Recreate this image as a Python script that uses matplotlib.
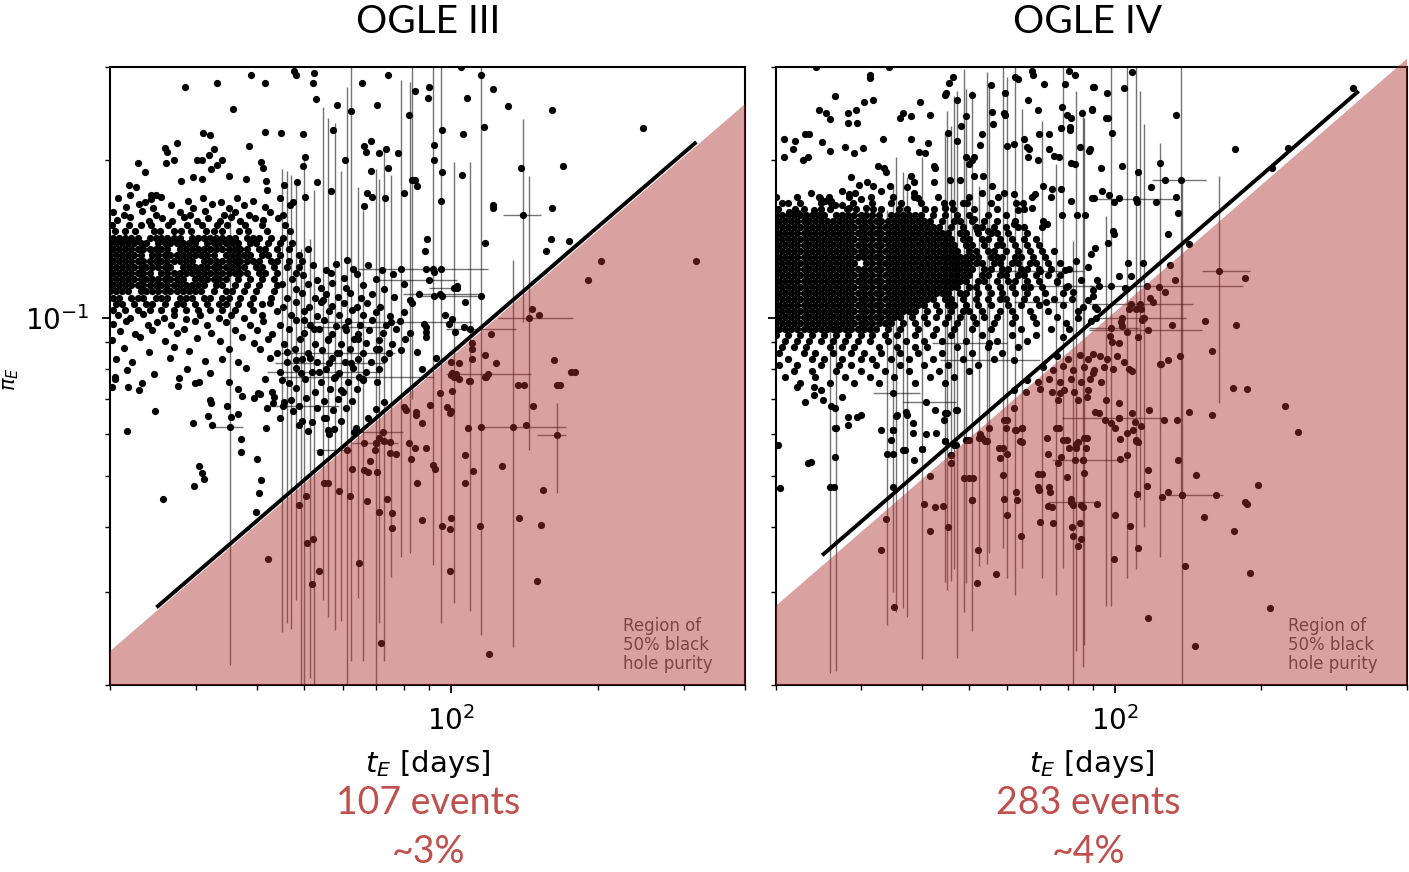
import numpy as np
import matplotlib.pyplot as plt
from matplotlib.ticker import NullFormatter

# ---------------- OGLE III (left panel) ----------------
# dense core of the cloud: (piE, [tE values along that row])
iii_core = [
    (0.150, [20.2, 21.9, 23.2, 24.3, 26.3, 28.7, 30.9, 33.1, 34.8, 37.8, 40.9, 45.6]),
    (0.146, [20.5, 21.5, 22.5, 24.6, 25.3, 27.0, 28.0, 29.3, 31.4, 32.7, 34.0, 36.8, 38.3, 42.0, 46.7]),
    (0.142, [20.3, 20.9, 21.5, 22.1, 22.8, 24.1, 24.8, 25.5, 26.2, 27.0, 27.8, 29.5, 30.3, 31.2, 32.1, 33.0, 34.0, 35.0, 36.0, 38.1, 39.2, 40.4, 42.8, 45.3]),
    (0.1385, [20.0, 20.6, 21.2, 21.8, 22.4, 23.1, 23.7, 25.1, 25.9, 26.6, 27.4, 28.2, 29.0, 29.9, 31.6, 32.6, 33.5, 34.5, 35.5, 36.5, 38.7, 39.8, 42.2, 44.7, 47.3]),
    (0.135, [20.3, 20.9, 21.5, 22.1, 22.8, 23.4, 24.1, 24.8, 25.5, 26.2, 27.8, 28.6, 29.5, 30.3, 31.2, 32.1, 33.0, 34.0, 35.0, 36.0, 37.0, 38.1, 40.4, 41.6, 44.0, 46.6, 50.8]),
    (0.1315, [20.0, 20.6, 21.2, 21.8, 22.4, 23.1, 24.4, 25.1, 25.9, 26.6, 27.4, 28.2, 29.0, 29.9, 30.7, 31.6, 32.6, 34.5, 35.5, 36.5, 37.6, 38.7, 41.0, 42.2, 44.7, 48.7]),
    (0.128, [20.3, 20.9, 21.5, 22.1, 22.8, 23.4, 24.1, 24.8, 25.5, 26.2, 27.0, 27.8, 28.6, 29.5, 31.2, 32.1, 33.0, 34.0, 35.0, 36.0, 37.0, 38.1, 39.2, 40.4, 42.8, 44.0, 46.6, 49.4]),
    (0.1248, [20.0, 20.6, 21.2, 21.8, 22.4, 23.1, 23.7, 24.4, 25.1, 25.9, 26.6, 28.2, 29.0, 29.9, 30.7, 31.6, 32.6, 33.5, 34.5, 35.5, 36.5, 37.6, 39.8, 41.0, 43.4, 46.0, 48.7]),
    (0.1215, [20.3, 20.9, 21.5, 22.1, 22.8, 23.4, 24.1, 25.5, 26.2, 27.0, 27.8, 28.6, 29.5, 30.3, 31.2, 32.1, 33.0, 34.0, 35.0, 36.0, 37.0, 38.1, 40.4, 41.6, 44.0, 48.0]),
    (0.1183, [20.0, 20.6, 21.2, 21.8, 22.4, 23.1, 23.7, 24.4, 25.1, 25.9, 26.6, 27.4, 28.2, 29.9, 30.7, 31.6, 32.6, 33.5, 34.5, 36.5, 38.7, 41.0, 43.4, 47.3]),
    (0.1152, [20.3, 20.9, 21.5, 22.1, 22.8, 23.4, 24.1, 24.8, 25.5, 26.2, 27.0, 27.8, 28.6, 29.5, 30.3, 31.2, 33.0, 34.0, 36.0, 38.1, 40.4, 44.0]),
    (0.1122, [20.0, 20.6, 21.2, 21.8, 23.1, 23.7, 24.4, 25.1, 25.9, 26.6, 27.4, 28.2, 29.0, 29.9, 30.7, 32.6, 34.5, 35.5, 37.6, 39.8, 43.4]),
    (0.1092, [20.3, 20.9, 22.1, 22.8, 23.4, 24.8, 25.5, 26.2, 27.8, 28.6, 29.5, 31.2, 32.1, 34.0, 35.0, 37.0, 39.2, 42.8]),
    (0.1063, [20.6, 21.2, 22.4, 23.7, 24.4, 25.9, 27.4, 28.2, 29.9, 31.6, 33.5, 34.5, 36.5, 38.7, 41.0]),
    (0.1035, [20.3, 21.5, 22.8, 24.1, 25.5, 27.0, 28.6, 30.3, 32.1, 34.0, 36.0, 39.2]),
]

# individual events (tE [days], piE)
iii_pts = [
    # fringe above the core
    (20.8, .169), (23.6, .166), (25.4, .1695), (28.9, .1665), (31.0, .1688), (33.8, .1662), (36.4, .1692), (39.2, .1668), (44.7, .169), (47.5, .1664),
    (21.6, .1622), (22.9, .1645), (24.5, .1618), (26.7, .1642), (29.6, .162), (32.4, .1644), (35.0, .1616), (37.6, .164), (41.5, .1622), (46.8, .1638),
    (20.3, .1592), (21.4, .1568), (23.3, .1594), (24.9, .157), (27.8, .159), (29.2, .1566), (31.3, .1593), (34.2, .1569), (36.1, .1592), (38.5, .1568), (42.6, .159), (45.3, .157),
    (20.7, .1532), (22.0, .1552), (24.0, .153), (25.6, .155), (26.8, .1528), (28.4, .1553), (30.1, .1531), (31.8, .155), (33.6, .1529), (35.4, .1552), (37.0, .153), (39.6, .1549), (41.2, .1532), (44.1, .1548),
    # sparse upper region
    (38.9, .29), (33.2, .28), (28.5, .275), (41.6, .28), (47.7, .295), (48.1, .29), (52.3, .292), (52.0, .28), (35.8, .25), (52.8, .261),
    (58.4, .254), (62.2, .247), (65.8, .28), (74.3, .29), (70.6, .254), (84.2, .27), (90.1, .275), (89.6, .262), (82.0, .243), (41.6, .226),
    (44.9, .225), (49.7, .224), (57.4, .228), (31.0, .225), (32.1, .223), (27.4, .215), (25.9, .21), (26.2, .207), (27.0, .2), (26.0, .197),
    (22.8, .197), (23.6, .189), (30.1, .2), (30.8, .2), (31.9, .204), (32.6, .209), (38.5, .212), (33.9, .2), (32.2, .192), (33.2, .195),
    (30.8, .184), (35.0, .186), (29.6, .185), (28.0, .182), (40.8, .198), (41.2, .193), (38.0, .184), (41.8, .182), (49.7, .194), (50.3, .202),
    (48.4, .181), (53.2, .181), (56.8, .174), (45.4, .179), (42.0, .175), (50.3, .17), (68.6, .217), (66.4, .212), (66.8, .207), (71.0, .206),
    (73.7, .209), (77.9, .206), (68.6, .19), (74.3, .193), (60.6, .2), (84.2, .183), (85.2, .178), (80.1, .173), (67.3, .173), (69.0, .17),
    (73.3, .169), (66.4, .163), (21.9, .179), (22.6, .177), (22.0, .171), (24.3, .171), (24.9, .171), (24.3, .168),
    (105, .30), (115, .29), (122, .272), (108, .262), (131, .253), (161, .248), (247, .23), (95.8, .228), (105.8, .224), (117, .231),
    (92.2, .213), (92.2, .2), (95.8, .189), (105.4, .187), (139.2, .193), (169.6, .194), (95.4, .167), (122, .164), (122, .162), (161, .162),
    (89.2, .141), (88.3, .134), (117.4, .139), (160, .141), (174.3, .14), (156.6, .134), (88.7, .1236), (92.2, .122), (102.9, .115), (102.9, .114),
    (92.2, .11), (95.8, .11), (106.8, .107), (97.2, .101), (100.5, .0996), (99.0, .0974), (106.3, .096), (101.9, .094), (88.7, .096), (88.7, .094),
    (88.7, .092), (87.1, .08), (93.2, .084),
    # middle cluster
    (52.0, .126), (55.5, .1235), (58.0, .1265), (63.0, .124), (67.5, .126), (72.0, .1232),
    (49.8, .1205), (53.0, .118), (56.8, .1215), (60.2, .119), (64.0, .121), (70.0, .1185), (76.0, .1212),
    (45.0, .116), (48.0, .1135), (51.0, .1158), (54.2, .1138), (57.0, .1162), (61.0, .114), (66.0, .1155), (73.0, .1132), (80.0, .116),
    (46.2, .1092), (49.5, .1112), (52.6, .1088), (55.5, .1108), (58.6, .1094), (62.0, .1115), (65.5, .109), (69.0, .111), (76.5, .1095), (86.0, .1108),
    (42.6, .1068), (45.3, .1048), (48.0, .1072), (51.2, .105), (54.0, .107), (57.0, .1052), (60.3, .1068), (64.0, .1046), (67.2, .1066), (71.5, .105), (83.0, .1065),
    (41.0, .1012), (44.0, .1032), (47.0, .101), (50.0, .103), (53.0, .1008), (56.2, .1028), (59.0, .1012), (62.5, .1034), (66.0, .101), (70.0, .1026), (75.0, .1008), (80.0, .1025),
    (41.2, .0985), (44.5, .0968), (48.2, .099), (51.5, .097), (54.8, .0988), (58.0, .0965), (61.5, .0985), (65.0, .097), (69.0, .0992), (73.5, .0968), (78.5, .0986), (88.0, .0972),
    (40.0, .0948), (43.0, .0932), (46.5, .0952), (50.0, .0935), (53.5, .095), (57.0, .093), (60.8, .0948), (64.5, .0932), (68.0, .0946), (72.5, .0934), (77.0, .095), (82.5, .0935),
    (39.5, .0895), (42.2, .0912), (45.5, .0892), (49.0, .091), (52.5, .089), (56.0, .0908), (59.5, .0893), (63.2, .0912), (67.0, .0895), (71.0, .0908), (75.5, .0892), (80.5, .091),
    (40.5, .087), (44.0, .0858), (47.8, .0872), (51.0, .0856), (54.5, .0868), (58.3, .0855), (62.0, .0872), (66.0, .0858), (70.0, .087), (74.5, .0856), (79.0, .0868), (85.0, .086),
    (36.5, .0825), (42.5, .0838), (46.0, .0822), (49.5, .0836), (53.0, .0824), (57.0, .0838), (60.5, .0823), (64.5, .0835), (68.5, .0822), (73.0, .0836),
    (38.0, .0802), (44.5, .0788), (48.0, .0801), (51.8, .0787), (55.5, .08), (59.0, .0786), (63.0, .0802), (67.0, .079), (71.0, .0799),
    (35.0, .0755), (41.5, .0766), (46.5, .0752), (50.2, .0765), (54.0, .0754), (57.6, .0767), (61.5, .0753), (66.0, .0764), (70.5, .0755),
    (36.5, .0732), (43.0, .0722), (48.0, .0734), (52.5, .0721), (56.5, .0733), (60.0, .0722), (64.0, .0731),
    (39.5, .0702), (45.5, .0692), (50.5, .0703), (55.0, .0693), (58.5, .0701), (62.5, .0694),
    (42.0, .0673), (47.5, .0665), (53.0, .0674), (57.2, .0666), (60.8, .0672),
    (44.5, .0644), (49.5, .0636), (55.5, .0643), (59.5, .0637), (41.8, .0616), (50.8, .0609), (57.5, .0615),
    # below the core, short events
    (20.8, .1012), (22.0, .0998), (23.4, .1015), (25.8, .1), (27.1, .1013), (28.6, .0996), (30.6, .1011), (33.4, .0998), (35.4, .1014), (37.6, .1),
    (20.3, .0972), (21.6, .0985), (23.9, .0968), (25.0, .0982), (26.7, .097), (29.8, .0986), (31.6, .0969), (34.6, .0983), (38.8, .097),
    (21.0, .0945), (22.5, .0932), (24.4, .0948), (27.4, .0935), (28.3, .0951), (32.2, .0934), (36.0, .0946),
    (20.2, .0905), (23.0, .0918), (25.9, .0902), (30.2, .0915), (33.6, .0904), (37.2, .0917),
    (21.4, .0875), (24.0, .0862), (27.0, .0878), (29.0, .0865), (35.0, .0873),
    (20.6, .0835), (22.2, .0822), (26.5, .0838), (31.3, .0826), (33.9, .0836),
    (21.7, .0795), (24.6, .0782), (28.8, .0797), (32.0, .0785), (20.5, .0765), (23.3, .0752), (27.7, .0768), (30.5, .0756),
    (20.5, .077), (21.7, .061), (25.7, .0451), (24.7, .0665), (29.6, .063), (29.7, .0478), (30.4, .0523), (30.9, .0506), (31.2, .0493), (37.1, .0588),
    (37.1, .0555), (40.0, .0538), (40.8, .0491), (40.3, .0464), (39.8, .0426), (20.2, .0738), (21.8, .0738), (22.9, .073), (32.3, .0625), (31.7, .065),
    (34.8, .068), (36.6, .0655), (35.4, .0647), (32.0, .0698), (32.2, .0688), (40.2, .0718), (40.6, .0716), (37.2, .071), (27.6, .0742), (29.9, .075),
    (43.3, .0707), (45.2, .068), (43.2, .0688), (48.8, .0625), (51.8, .0633), (53.9, .0555), (55.0, .0645), (55.9, .0612), (56.3, .0602), (63.3, .0606),
    (63.9, .0617), (67.5, .0645),
    # inside the 50% purity region
    (203, .128), (191, .118), (317, .128), (146.6, .104), (151.5, .101), (120.8, .093), (110.4, .0896), (110.4, .087), (110.4, .0835), (117.4, .085),
    (123.7, .082), (103.8, .082), (100, .0824), (100.5, .0786), (102.4, .078), (103.8, .0765), (109.4, .0757), (117.4, .077), (137.2, .0746), (162.4, .0832),
    (176, .079), (165, .0746), (42.2, .0348), (48.8, .044), (50.4, .0458), (50.6, .0372), (52.1, .038), (51.8, .0312), (53.7, .0329), (55.0, .0484),
    (56.0, .0484), (59.0, .0468), (62.0, .0458), (64.8, .0341), (67.3, .0448), (71.0, .0426), (74.0, .0451), (75.5, .0425), (75.5, .0398), (71.9, .024),
    (66.3, .0513), (67.5, .0508), (70.6, .0508), (62.6, .0516), (68.2, .0534), (66.3, .0578), (69.8, .056), (70.3, .0578), (71.0, .059), (73.0, .0583),
    (75.0, .058), (77.0, .0551), (75.0, .0553), (82.0, .0578), (84.5, .0566), (89.0, .0566), (82.8, .0538), (85.2, .0484), (87.0, .0412), (91.8, .0524),
    (92.5, .0516), (95.6, .0401), (100, .0415), (99.5, .0396), (99.5, .0329), (107, .0548), (107, .0484), (111, .051), (114.5, .0401), (127, .0522),
    (138, .0415), (153, .0404), (154, .047), (150, .0316), (119.6, .0229), (142.5, .0625), (114.9, .062), (108.4, .0617), (147, .0679), (141, .0745),
    (167, .0745), (179, .0789), (118, .0772), (109, .0757), (100.5, .0726), (99.5, .066), (100, .0665), (100, .0778), (101.4, .077), (98.1, .0677),
    (95.0, .0718), (90.5, .0682), (87.0, .063), (84.8, .0662), (84.8, .0653), (80.0, .0675), (80.8, .0668),
]

# events with error bars: (tE, piE, tE_lo, tE_hi, piE_lo, piE_hi)
iii_err = [
    (35.2, .062, 32.3, 37.5, .0218, .163), (45.0, .0762, 45.0, 45.0, .0252, .192), (46.1, .086, 46.1, 46.1, .0263, .19),
    (47.0, .0698, 47.0, 47.0, .0256, .187), (48.1, .083, 48.1, 48.1, .029, .182), (49.3, .0785, 49.3, 49.3, .0195, .135),
    (50.0, .099, 50.0, 50.0, .019, .20), (51.4, .084, 51.4, 51.4, .0206, .141), (52.4, .095, 52.4, 52.4, .0195, .175),
    (54.6, .108, 54.6, 54.6, .029, .252), (55.9, .091, 55.9, 55.9, .0269, .24), (57.7, .077, 57.7, 57.7, .0254, .235),
    (59.5, .073, 59.5, 59.5, .0265, .19), (61.3, .129, 61.3, 61.3, .019, .275), (62.4, .082, 62.4, 62.4, .0222, .30),
    (64.3, .091, 64.3, 64.3, .0293, .177), (66.1, .076, 66.1, 66.1, .0222, .16), (70.3, .067, 70.3, 70.3, .019, .192),
    (71.2, .087, 71.2, 71.2, .0262, .184), (72.9, .069, 72.9, 72.9, .0222, .209), (75.2, .098, 49.3, 110.4, .0321, .187),
    (78.9, .124, 78.9, 78.9, .035, .284), (82.3, .108, 82.3, 82.3, .0356, .281), (83.1, .183, 83.1, 83.1, .07, .31),
    (91.9, .124, 91.9, 91.9, .0338, .31), (95.4, .124, 64.3, 119, .0262, .31), (101.4, .114, 90, 103, .0286, .198),
    (109.4, .095, 97.5, 136, .0277, .198), (115.2, .11, 86, 115.2, .0249, .31), (134, .062, 113, 172, .0236, .129),
    (140.5, .157, 127.7, 152.7, .098, .239), (144.6, .10, 125, 177.6, .056, .186), (164.6, .0598, 150, 172, .0464, .0688),
    (90, .118, 70.6, 102.9, .118, .118), (95, .111, 79.8, 115, .111, .111), (60.5, .096, 50, 72.9, .096, .096),
    (59, .0857, 44.9, 76.8, .0857, .0857), (56.3, .082, 43.6, 73.3, .082, .082), (53.7, .079, 42, 71.6, .079, .079),
    (119, .078, 97.5, 146, .078, .078), (64.8, .077, 44.9, 92.2, .077, .077), (48.8, .068, 42.4, 59, .068, .068),
    (61.3, .056, 52.9, 62.4, .056, .056), (72.6, .0605, 64.3, 79.6, .0605, .0605), (70.3, .0578, 62.6, 78, .0578, .0578),
]

# ---------------- OGLE IV (right panel) ----------------
iv_core = [
    (0.170, [20.0, 22.1, 24.5, 25.7, 28.3, 31.4, 34.9, 38.6, 43.2, 50.0, 57.5, 67.5]),
    (0.1655, [20.6, 22.4, 24.8, 26.0, 28.8, 31.5, 34.6, 36.2, 39.9, 44.3, 49.5, 55.5, 64.5]),
    (0.161, [20.2, 21.9, 22.8, 24.8, 25.8, 28.0, 29.2, 31.7, 33.0, 35.8, 37.3, 40.6, 42.4, 46.3, 51.2, 57.2, 65.0]),
    (0.157, [20.0, 20.6, 21.2, 21.8, 22.4, 23.1, 23.7, 24.4, 25.1, 26.6, 27.4, 28.2, 29.0, 29.9, 30.7, 31.6, 32.6, 34.5, 35.5, 36.5, 37.6, 38.7, 39.8, 42.2, 44.7, 47.3, 50.1, 54.6, 59.5]),
    (0.153, [20.3, 20.9, 21.5, 22.1, 22.8, 23.4, 24.1, 24.8, 25.5, 26.2, 27.0, 27.8, 28.6, 29.5, 30.3, 31.2, 32.1, 33.0, 34.0, 35.0, 36.0, 37.0, 38.1, 39.2, 40.4, 41.6, 44.0, 46.6, 48.0, 50.8, 53.8, 57.0, 62.1]),
    (0.149, [20.0, 20.6, 21.2, 21.8, 22.4, 23.1, 23.7, 24.4, 25.1, 25.9, 26.6, 27.4, 28.2, 29.0, 29.9, 30.7, 31.6, 32.6, 33.5, 34.5, 35.5, 36.5, 37.6, 38.7, 39.8, 41.0, 42.2, 43.4, 46.0, 48.7, 51.6, 53.1, 56.2, 59.5, 63.0, 70.6]),
    (0.145, [20.3, 20.9, 21.5, 22.1, 22.8, 23.4, 24.1, 24.8, 25.5, 26.2, 27.0, 27.8, 28.6, 29.5, 30.3, 31.2, 32.1, 33.0, 34.0, 35.0, 36.0, 37.0, 38.1, 39.2, 40.4, 41.6, 42.8, 44.0, 45.3, 48.0, 49.4, 52.3, 55.4, 57.0, 60.3, 65.7]),
    (0.1413, [20.0, 20.6, 21.2, 21.8, 22.4, 23.1, 23.7, 24.4, 25.1, 25.9, 26.6, 27.4, 28.2, 29.0, 29.9, 30.7, 31.6, 32.6, 33.5, 34.5, 35.5, 36.5, 37.6, 38.7, 39.8, 41.0, 42.2, 43.4, 44.7, 46.0, 48.7, 50.1, 53.1, 54.6, 57.8, 61.2, 64.8, 68.6]),
    (0.1377, [20.3, 20.9, 21.5, 22.1, 22.8, 23.4, 24.1, 24.8, 25.5, 26.2, 27.0, 27.8, 28.6, 29.5, 30.3, 31.2, 32.1, 33.0, 34.0, 35.0, 36.0, 37.0, 38.1, 39.2, 40.4, 41.6, 42.8, 44.0, 45.3, 46.6, 49.4, 50.8, 53.8, 57.0, 58.6, 62.1, 65.7, 69.6]),
    (0.1341, [20.0, 20.6, 21.2, 21.8, 22.4, 23.1, 23.7, 24.4, 25.1, 25.9, 26.6, 27.4, 28.2, 29.0, 29.9, 30.7, 31.6, 32.6, 33.5, 34.5, 35.5, 36.5, 37.6, 38.7, 39.8, 41.0, 42.2, 43.4, 44.7, 46.0, 47.3, 50.1, 51.6, 54.6, 56.2, 59.5, 63.0, 66.7, 70.6, 74.7]),
    (0.1306, [20.3, 20.9, 21.5, 22.1, 22.8, 23.4, 24.1, 24.8, 25.5, 26.2, 27.0, 27.8, 28.6, 29.5, 30.3, 31.2, 32.1, 33.0, 34.0, 35.0, 36.0, 37.0, 38.1, 39.2, 40.4, 41.6, 42.8, 44.0, 45.3, 46.6, 48.0, 49.4, 50.8, 52.3, 55.4, 57.0, 58.6, 62.1, 63.9, 67.6, 71.6]),
    (0.1272, [20.0, 20.6, 21.2, 21.8, 22.4, 23.1, 23.7, 24.4, 25.1, 25.9, 26.6, 27.4, 28.2, 29.0, 30.7, 31.6, 32.6, 33.5, 34.5, 35.5, 36.5, 37.6, 38.7, 39.8, 41.0, 42.2, 43.4, 44.7, 46.0, 47.3, 48.7, 50.1, 51.6, 53.1, 56.2, 57.8, 61.2, 63.0, 66.7, 68.6, 72.6, 76.9]),
    (0.1239, [20.3, 20.9, 21.5, 22.1, 22.8, 23.4, 24.1, 24.8, 25.5, 26.2, 27.0, 27.8, 28.6, 29.5, 30.3, 31.2, 32.1, 33.0, 34.0, 35.0, 36.0, 37.0, 38.1, 39.2, 40.4, 41.6, 42.8, 44.0, 45.3, 46.6, 48.0, 49.4, 50.8, 53.8, 55.4, 58.6, 60.3, 63.9, 65.7, 69.6, 73.7, 80.3]),
    (0.1207, [20.0, 20.6, 21.2, 21.8, 22.4, 23.1, 23.7, 24.4, 25.1, 25.9, 26.6, 27.4, 28.2, 29.0, 29.9, 30.7, 31.6, 32.6, 33.5, 34.5, 35.5, 36.5, 37.6, 38.7, 39.8, 41.0, 42.2, 43.4, 44.7, 46.0, 47.3, 48.7, 50.1, 53.1, 54.6, 57.8, 59.5, 63.0, 64.8, 68.6, 72.6, 76.9]),
    (0.1175, [20.3, 20.9, 21.5, 22.1, 22.8, 23.4, 24.1, 24.8, 25.5, 26.2, 27.0, 27.8, 28.6, 29.5, 30.3, 31.2, 32.1, 33.0, 34.0, 35.0, 36.0, 37.0, 38.1, 39.2, 40.4, 41.6, 42.8, 44.0, 45.3, 46.6, 48.0, 49.4, 52.3, 53.8, 57.0, 60.3, 62.1, 65.7, 69.6, 75.8]),
    (0.1145, [20.0, 20.6, 21.2, 21.8, 22.4, 23.1, 23.7, 24.4, 25.1, 25.9, 26.6, 27.4, 28.2, 29.0, 29.9, 30.7, 31.6, 32.6, 33.5, 34.5, 35.5, 36.5, 37.6, 38.7, 39.8, 41.0, 42.2, 43.4, 44.7, 46.0, 47.3, 50.1, 51.6, 54.6, 57.8, 61.2, 64.8, 66.7, 70.6, 79.1]),
    (0.1115, [20.3, 20.9, 21.5, 22.1, 22.8, 23.4, 24.1, 24.8, 25.5, 26.2, 27.0, 27.8, 28.6, 29.5, 30.3, 31.2, 32.1, 33.0, 34.0, 35.0, 36.0, 37.0, 38.1, 39.2, 40.4, 41.6, 42.8, 44.0, 45.3, 48.0, 49.4, 52.3, 55.4, 58.6, 62.1, 65.7, 71.6, 78.0]),
    (0.1086, [20.0, 20.6, 21.2, 21.8, 22.4, 23.1, 23.7, 24.4, 25.1, 25.9, 26.6, 27.4, 28.2, 29.0, 29.9, 30.7, 31.6, 32.6, 33.5, 34.5, 35.5, 36.5, 37.6, 38.7, 39.8, 41.0, 42.2, 44.7, 46.0, 48.7, 51.6, 54.6, 57.8, 59.5, 64.8, 68.6, 74.7, 81.4]),
    (0.1058, [20.3, 20.9, 21.5, 22.1, 22.8, 23.4, 24.1, 24.8, 25.5, 26.2, 27.0, 27.8, 28.6, 29.5, 30.3, 31.2, 32.1, 33.0, 34.0, 35.0, 36.0, 37.0, 38.1, 39.2, 40.4, 42.8, 45.3, 46.6, 49.4, 52.3, 55.4, 60.3, 63.9, 69.6, 78.0]),
    (0.103, [20.0, 20.6, 21.2, 21.8, 22.4, 23.1, 23.7, 24.4, 25.1, 25.9, 26.6, 27.4, 28.2, 29.0, 29.9, 30.7, 31.6, 32.6, 33.5, 34.5, 35.5, 36.5, 37.6, 38.7, 41.0, 43.4, 46.0, 48.7, 50.1, 53.1, 57.8, 61.2, 66.7, 72.6, 83.8]),
    (0.1004, [20.3, 20.9, 21.5, 22.1, 22.8, 23.4, 24.1, 24.8, 25.5, 26.2, 27.0, 27.8, 28.6, 29.5, 30.3, 31.2, 32.1, 33.0, 34.0, 35.0, 36.0, 38.1, 40.4, 42.8, 45.3, 48.0, 51.0, 53.8, 57.0, 62.1, 67.6, 75.8]),
    (0.0978, [20.0, 20.6, 21.2, 21.8, 22.4, 23.1, 23.7, 24.4, 25.1, 25.9, 26.6, 27.4, 28.2, 29.0, 29.9, 30.7, 31.6, 32.6, 33.5, 34.5, 36.5, 38.7, 41.0, 44.7, 47.3, 51.6, 56.2, 61.2, 68.6, 79.1]),
    (0.0952, [20.3, 20.9, 21.5, 22.1, 22.8, 23.4, 24.1, 24.8, 25.5, 26.2, 27.0, 27.8, 28.6, 29.5, 30.3, 31.2, 32.1, 34.0, 36.0, 39.2, 42.8, 46.6, 50.8, 55.4, 63.9, 73.7]),
    (0.0927, [20.0, 21.2, 22.4, 23.7, 25.1, 26.6, 28.2, 29.9, 31.6, 33.5, 35.5, 38.7, 42.2, 46.0, 53.1, 61.2, 68.6]),
    (0.0903, [20.9, 22.1, 23.4, 24.8, 26.2, 27.8, 29.5, 31.2, 34.0, 37.0, 40.4, 44.0, 49.4, 57.0, 65.7]),
    (0.0879, [20.6, 21.8, 23.1, 25.9, 27.4, 29.0, 32.6, 35.5, 38.7, 41.0, 47.3, 54.6, 63.0]),
    (0.0856, [20.3, 22.8, 24.1, 26.2, 28.6, 30.3, 33.0, 36.0, 39.2, 44.0, 50.8, 58.6]),
    (0.0834, [21.2, 23.7, 25.1, 27.4, 29.9, 31.6, 34.5, 37.6, 42.2, 48.7, 56.2]),
    (0.0812, [20.3, 22.1, 24.8, 27.0, 28.6, 32.1, 36.0, 40.4, 45.3, 52.3]),
    (0.0791, [21.8, 23.7, 26.6, 29.9, 33.5, 37.6, 43.4, 50.1]),
    (0.077, [20.9, 24.1, 27.8, 31.2, 35.0, 41.6, 46.6]),
    (0.075, [22.4, 25.9, 29.0, 32.6, 38.7, 44.7]),
]

iv_pts = [
    # sparse upper region
    (24.2, .30), (31.2, .29), (31.3, .286), (34.2, .30), (26.5, .264), (24.5, .249), (25.3, .245), (25.8, .239), (28.1, .245), (29.3, .248),
    (28.1, .235), (29.4, .235), (30.4, .257), (31.7, .26), (20.8, .219), (21.9, .217), (22.9, .224), (23.4, .224), (20.8, .202), (21.7, .209),
    (22.7, .2), (23.3, .202), (24.9, .216), (25.8, .208), (27.8, .211), (29.0, .206), (30.2, .21), (33.3, .219), (36.0, .24), (36.6, .245),
    (37.9, .242), (39.6, .257), (41.6, .243), (37.9, .219), (39.4, .207), (40.6, .206), (41.2, .215), (44.6, .265), (44.8, .268), (45.4, .28),
    (46.3, .287), (47.2, .26), (50.6, .265), (45.2, .225), (47.2, .217), (48.1, .232), (49.2, .242), (55.5, .277), (59.2, .268), (59.0, .245),
    (59.4, .243), (55.8, .246), (56.0, .234), (53.3, .224), (52.8, .213), (60.0, .212), (62.1, .287), (63.0, .285), (67.5, .295), (67.8, .29),
    (71.5, .279), (79.0, .279), (80.2, .295), (82.8, .29), (90.0, .275), (66.2, .26), (69.5, .248), (77.8, .252), (79.6, .243), (81.2, .24),
    (85.5, .245), (89.7, .25), (77.4, .23), (80.9, .231), (80.9, .228), (73.0, .224), (69.8, .224), (64.8, .219), (62.0, .214), (65.8, .211),
    (66.5, .209), (73.0, .209), (74.9, .203), (69.5, .2), (66.2, .202), (76.5, .202), (81.0, .197), (82.6, .196), (84.5, .211), (88.3, .208),
    (49.4, .202), (50.6, .2), (51.3, .202), (50.0, .196), (42.3, .194), (42.5, .193), (42.3, .181), (45.7, .183), (48.0, .183), (51.2, .186),
    (53.5, .186), (53.1, .173), (55.8, .178), (59.0, .173), (62.0, .172), (62.6, .165), (63.0, .16), (67.5, .162), (68.3, .172), (71.2, .178),
    (74.0, .176), (73.8, .17), (72.3, .151), (77.4, .176), (77.8, .157), (81.0, .167), (83.6, .157), (86.9, .157), (89.7, .169), (71.2, .153),
    (62.0, .151), (64.8, .149), (51.2, .154), (51.9, .147), (54.7, .146), (46.2, .165), (48.5, .165), (44.6, .162), (32.5, .194), (33.4, .193),
    (33.7, .189), (31.7, .178), (32.9, .174), (34.3, .178), (37.3, .177), (37.9, .186), (38.6, .181), (38.6, .173), (39.2, .169), (28.6, .185),
    (29.6, .179), (30.8, .181), (27.3, .174), (28.3, .172), (29.1, .173), (29.9, .168), (30.7, .162), (26.0, .167), (26.5, .164), (23.6, .173),
    (24.7, .169), (25.2, .167), (21.2, .165), (21.3, .159), (22.2, .158), (23.0, .156), (23.9, .16), (24.7, .157), (27.4, .164), (28.3, .162),
    # around tE ~ 100 above the cut
    (108.4, .293), (90.5, .275), (96.3, .268), (104.4, .274), (89.6, .248), (95.8, .24), (96.7, .24), (98.6, .225), (133.5, .243), (88.8, .209),
    (93.6, .193), (103.4, .194), (111.5, .189), (123.8, .197), (127.0, .183), (118.6, .177), (94.0, .174), (97.2, .171), (99.5, .166), (102.0, .169),
    (110.9, .166), (121.5, .166), (133.5, .17), (134.6, .158), (90.5, .169), (99.0, .146), (99.5, .144), (128.5, .144), (96.7, .139), (91.0, .136),
    (89.3, .132), (106.4, .127), (114.0, .127), (102.0, .12), (107.8, .12), (92.7, .115), (90.0, .113), (104.8, .114), (91.0, .105), (91.9, .104),
    (89.3, .0987), (91.4, .1), (177.0, .209), (310.0, .274), (210.5, .193), (227.0, .21),
    (82.0, .112), (85.0, .118), (88.0, .108), (84.0, .1), (80.5, .095), (78.0, .092), (86.0, .105), (90.0, .11), (92.0, .118), (88.0, .125),
    (83.0, .128), (79.0, .123), (76.0, .117),
    # lower left
    (20.4, .0474), (20.2, .0573), (23.3, .053), (26.3, .0476), (26.5, .0543), (26.5, .0617), (28.1, .0625), (28.1, .0647), (29.4, .0647), (30.0, .0653),
    (25.0, .0698), (23.9, .0713), (22.9, .0692), (22.1, .0738), (23.9, .0738), (24.8, .073), (27.3, .0707), (26.5, .0673), (26.0, .068), (32.9, .0612),
    (34.8, .0612), (34.8, .055), (34.6, .0585), (34.8, .0476), (36.9, .056), (35.6, .0653), (37.1, .0661), (38.3, .063), (38.3, .0604), (38.5, .0536),
    (40.0, .0563), (40.8, .0602), (42.8, .0604), (44.3, .0639), (44.7, .0582), (46.9, .0572), (44.7, .0659), (47.1, .0668), (42.5, .0668), (23.6, .0531),
    # inside the 50% purity region
    (142, .138), (129.7, .126), (132.9, .118), (123.5, .1146), (126.6, .112), (116.4, .115), (118, .109), (120, .107), (108, .106), (112.9, .104),
    (107, .104), (114, .1), (113.6, .099), (103.4, .1), (102.7, .098), (103.4, .0966), (97.6, .0924), (111.5, .092), (102, .0896), (98.4, .09),
    (131, .097), (153.6, .0987), (178, .097), (158.6, .0865), (185, .119), (136, .0847), (128.5, .0832), (124.6, .0815), (104.4, .0824), (107, .08),
    (108.4, .0792), (90, .0853), (90, .0786),
    (76, .0845), (80, .0835), (84.5, .0848), (88, .0836), (93, .0846), (96.5, .0834), (101, .0844),
    (71, .0805), (74.5, .0795), (78, .0808), (82, .0796), (86.5, .0806), (90.5, .0794), (95, .0804), (99, .0797),
    (66, .0762), (69.5, .0754), (73, .0765), (77, .0755), (81, .0764), (85, .0753), (89, .0763), (93.5, .0756),
    (62, .0728), (65.5, .0722), (70, .0731), (74, .0721), (78.5, .073), (82.5, .0723), (88, .0729),
    (41.5, .05), (40.3, .0442), (42.5, .0436), (44.2, .0438), (41.5, .0393), (45.2, .04), (33.7, .0414), (33.0, .0361), (35.1, .0281), (45.9, .0548),
    (45.9, .053), (49.9, .0495), (51.0, .0495), (50.8, .045), (52.3, .0361), (52.0, .0313), (56.9, .0325), (53.1, .0591), (54.0, .0582), (50.0, .0585),
    (52.7, .0602), (57.6, .0564), (58.0, .054), (59.9, .055), (59.0, .0639), (59.7, .0617), (58.8, .0503), (59.0, .0452), (59.9, .0421), (62.6, .0466),
    (62.9, .045), (64.0, .0384), (62.0, .0674), (62.6, .0612), (64.4, .0617), (63.6, .0582), (64.3, .058), (69.3, .0505), (69.5, .0476), (69.8, .047),
    (73.1, .0476), (73.5, .0466), (72.9, .0438), (74.1, .0436), (70.0, .0408), (74.6, .0406), (72.5, .0591), (72.7, .055), (76.6, .0617), (76.2, .053),
    (77.3, .0543), (79.5, .0497), (79.5, .0585), (80.4, .0564), (81.0, .0452), (81.3, .0445), (81.6, .04), (82.0, .0384), (83.8, .0367), (85.0, .044),
    (85.8, .0436), (84.8, .0406), (85.0, .038), (82.7, .0536), (85.8, .0536), (83.0, .0576), (83.8, .058), (87.3, .0566), (86.5, .0507), (87.7, .0591),
    (92.0, .0443), (76.9, .0718), (76.2, .0698), (83.7, .0698), (87.6, .0707), (90.8, .0662), (92.5, .066), (95.3, .0639), (98.1, .063), (100, .0617),
    (102, .0645), (102.4, .0588), (100, .0421), (99.5, .0348), (102.4, .0538), (102, .0688), (106, .0604), (107.5, .0402), (106, .0548), (109, .0612),
    (110.4, .0585), (110.7, .0582), (111.5, .058), (108.6, .066), (109.9, .0633), (113, .0622), (117.5, .0668), (117, .0513), (116.4, .0478), (111, .0462),
    (111.8, .0364), (117, .0268), (126.4, .0639), (125, .0456), (128.5, .0466), (134.6, .0536), (137.3, .046), (134, .0639), (139.6, .0337), (142, .0662),
    (146.8, .0502), (152.9, .0417), (158.8, .0653), (161.3, .046), (146, .0237), (175.4, .0736), (187.5, .0732), (176, .0392), (185, .0446), (187, .0443),
    (197, .0481), (190, .0327), (208.5, .028), (224, .068), (238, .0606),
]

iv_err = [
    (25.9, .0476, 25.9, 25.9, .0211, .098), (26.6, .0617, 26.6, 26.6, .0213, .097), (33.8, .055, 33.8, 33.8, .026, .16),
    (34.8, .0612, 34.8, 34.8, .030, .18), (35.3, .065, 35.3, 35.3, .0275, .202), (36.5, .056, 36.5, 36.5, .028, .189),
    (40.0, .0563, 40.0, 40.0, .0224, .202), (37.2, .0653, 37.2, 37.2, .027, .185), (44.7, .0582, 44.7, 44.7, .0314, .225),
    (45.1, .0659, 45.1, 45.1, .0303, .247), (45.9, .0548, 45.9, 45.9, .0316, .232), (46.6, .0572, 46.6, 46.6, .0333, .264),
    (47.3, .0668, 47.3, 47.3, .0225, .27), (48.9, .0495, 48.9, 48.9, .0275, .297), (49.4, .0585, 49.4, 49.4, .0313, .272),
    (50.8, .045, 50.8, 50.8, .0253, .27), (52.5, .0591, 52.5, 52.5, .0337, .178), (54.5, .0582, 54.5, 54.5, .034, .293),
    (55.0, .0617, 55.0, 55.0, .0356, .276), (58.8, .0564, 58.8, 58.8, .0365, .31), (59.9, .0639, 59.9, 59.9, .0319, .287),
    (62.2, .0612, 62.2, 62.2, .0297, .31), (64.4, .0617, 64.4, 64.4, .0334, .25), (70.8, .0505, 70.8, 70.8, .0319, .237),
    (75.6, .0617, 75.6, 75.6, .0297, .196), (78.2, .0585, 78.2, 78.2, .0334, .31), (82.0, .044, 82.0, 82.0, .0201, .14),
    (83.1, .0566, 83.1, 83.1, .0232, .27), (85.8, .0536, 74.0, 105.8, .0216, .25), (86.3, .0591, 86.3, 86.3, .0238, .24),
    (95.8, .0698, 95.8, 95.8, .0283, .156), (98.1, .0957, 88.4, 112, .0283, .31), (105.8, .094, 105.8, 105.8, .032, .31),
    (110.5, .104, 110.5, 110.5, .0333, .31), (112.6, .106, 88.4, 145, .045, .27), (114.7, .1, 88.4, 140, .04, .234),
    (123.8, .0815, 123.8, 123.8, .035, .215), (136.8, .183, 119, 154, .046, .31), (137.3, .046, 128.5, 167, .0201, .183),
    (163.6, .1225, 151, 190, .0688, .186), (110.4, .168, 88.4, 132, .168, .168), (98.0, .115, 88.5, 184, .115, .115),
    (117.0, .0949, 88.4, 151, .0949, .0949), (34.8, .0719, 31.7, 39.7, .0719, .0719), (40.8, .069, 36.6, 47.1, .069, .069),
    (102.0, .0645, 77.8, 125, .0645, .0645), (81.3, .0445, 72.8, 92, .0445, .0445), (70.0, .1225, 55.5, 86, .1225, .1225),
    (80.0, .115, 64, 90, .115, .115), (72.0, .107, 62, 80, .107, .107), (55.0, .0896, 42, 60, .0896, .0896),
    (62.0, .0832, 43.6, 70, .0832, .0832),
]

# 50% purity cut (line end points) and shaded region edge, (tE list, piE list)
iii_cut = ([24.9, 318.0], [0.0281, 0.216])
iii_shade = ([20.0, 400.0], [0.0232, 0.255])
iv_cut = ([24.9, 318.0], [0.0353, 0.270])
iv_shade = ([20.0, 400.0], [0.0283, 0.311])

titles = ['OGLE III', 'OGLE IV']
n_events = ['107 events', '283 events']
fractions = ['~3%', '~4%']

XLIM = (20, 400)
YLIM = (0.02, 0.3)
SHADE_RGB = (0.687, 0.189, 0.189)
RED_TEXT = '#C0504D'


def draw_panel(ax, core, pts, err, cut, shade, text_x, show_ylabels):
    te = [t for y, row in core for t in row] + [p[0] for p in pts]
    pie = [y for y, row in core for t in row] + [p[1] for p in pts]
    e = np.array(err, dtype=float)
    xerr = [np.maximum(e[:, 0] - e[:, 2], 0), np.maximum(e[:, 3] - e[:, 0], 0)]
    yerr = [np.maximum(e[:, 1] - e[:, 4], 0), np.maximum(e[:, 5] - e[:, 1], 0)]
    ax.errorbar(e[:, 0], e[:, 1], xerr=xerr, yerr=yerr, fmt='none',
                ecolor='k', elinewidth=1.0, alpha=0.55, zorder=1.5)
    ax.scatter(te + list(e[:, 0]), pie + list(e[:, 1]), s=27, c='k',
               linewidths=0, zorder=2)

    ax.set_xscale('log')
    ax.set_yscale('log')
    ax.set_xlim(*XLIM)
    ax.set_ylim(*YLIM)

    ax.text(text_x, 0.02, 'Region of\n50% black\nhole purity', transform=ax.transAxes,
            fontsize=12, color='#555555', ha='left', va='bottom', zorder=2.5,
            linespacing=1.05)

    sx, sy = shade
    ax.fill([sx[0], sx[1], sx[1], sx[0]], [sy[0], sy[1], YLIM[0], YLIM[0]],
            color=SHADE_RGB, alpha=0.45, lw=0, zorder=3, clip_on=False)
    ax.plot(cut[0], cut[1], color='k', lw=2.8, zorder=4, solid_capstyle='butt')

    for sp in ax.spines.values():
        sp.set_linewidth(1.5)
    ax.tick_params(which='major', length=6, width=1.3, labelsize=20, pad=9, direction='out')
    ax.tick_params(which='minor', length=3.5, width=1.0, direction='out')
    ax.xaxis.set_minor_formatter(NullFormatter())
    ax.yaxis.set_minor_formatter(NullFormatter())
    if not show_ylabels:
        ax.tick_params(axis='y', which='both', labelleft=False)
    ax.set_xlabel(r'$t_E$ [days]', fontsize=21, labelpad=9)


fig = plt.figure(figsize=(14.09, 8.72), dpi=100)
ax1 = fig.add_axes([110 / 1409, 187 / 872, 635 / 1409, 618 / 872])
ax2 = fig.add_axes([776 / 1409, 187 / 872, 631 / 1409, 618 / 872])

draw_panel(ax1, iii_core, iii_pts, iii_err, iii_cut, iii_shade, 0.808, True)
draw_panel(ax2, iv_core, iv_pts, iv_err, iv_cut, iv_shade, 0.811, False)

# y label of the left panel, squeezed against the slide edge
fig.text(0.001, 0.565, r'$\pi_E$', rotation=90, fontsize=15, ha='left', va='center')

for cx, title, nev, frac in zip([428 / 1409, 1088 / 1409], titles, n_events, fractions):
    fig.text(cx, 1 - 22 / 872, title, ha='center', va='center', fontsize=28, family='Lato')
    fig.text(cx, 1 - 803 / 872, nev, ha='center', va='center', fontsize=27,
             family='Lato', color=RED_TEXT)
    fig.text(cx, 1 - 852 / 872, frac, ha='center', va='center', fontsize=27,
             family='Lato', color=RED_TEXT)

fig.savefig('out.png', dpi=100)
